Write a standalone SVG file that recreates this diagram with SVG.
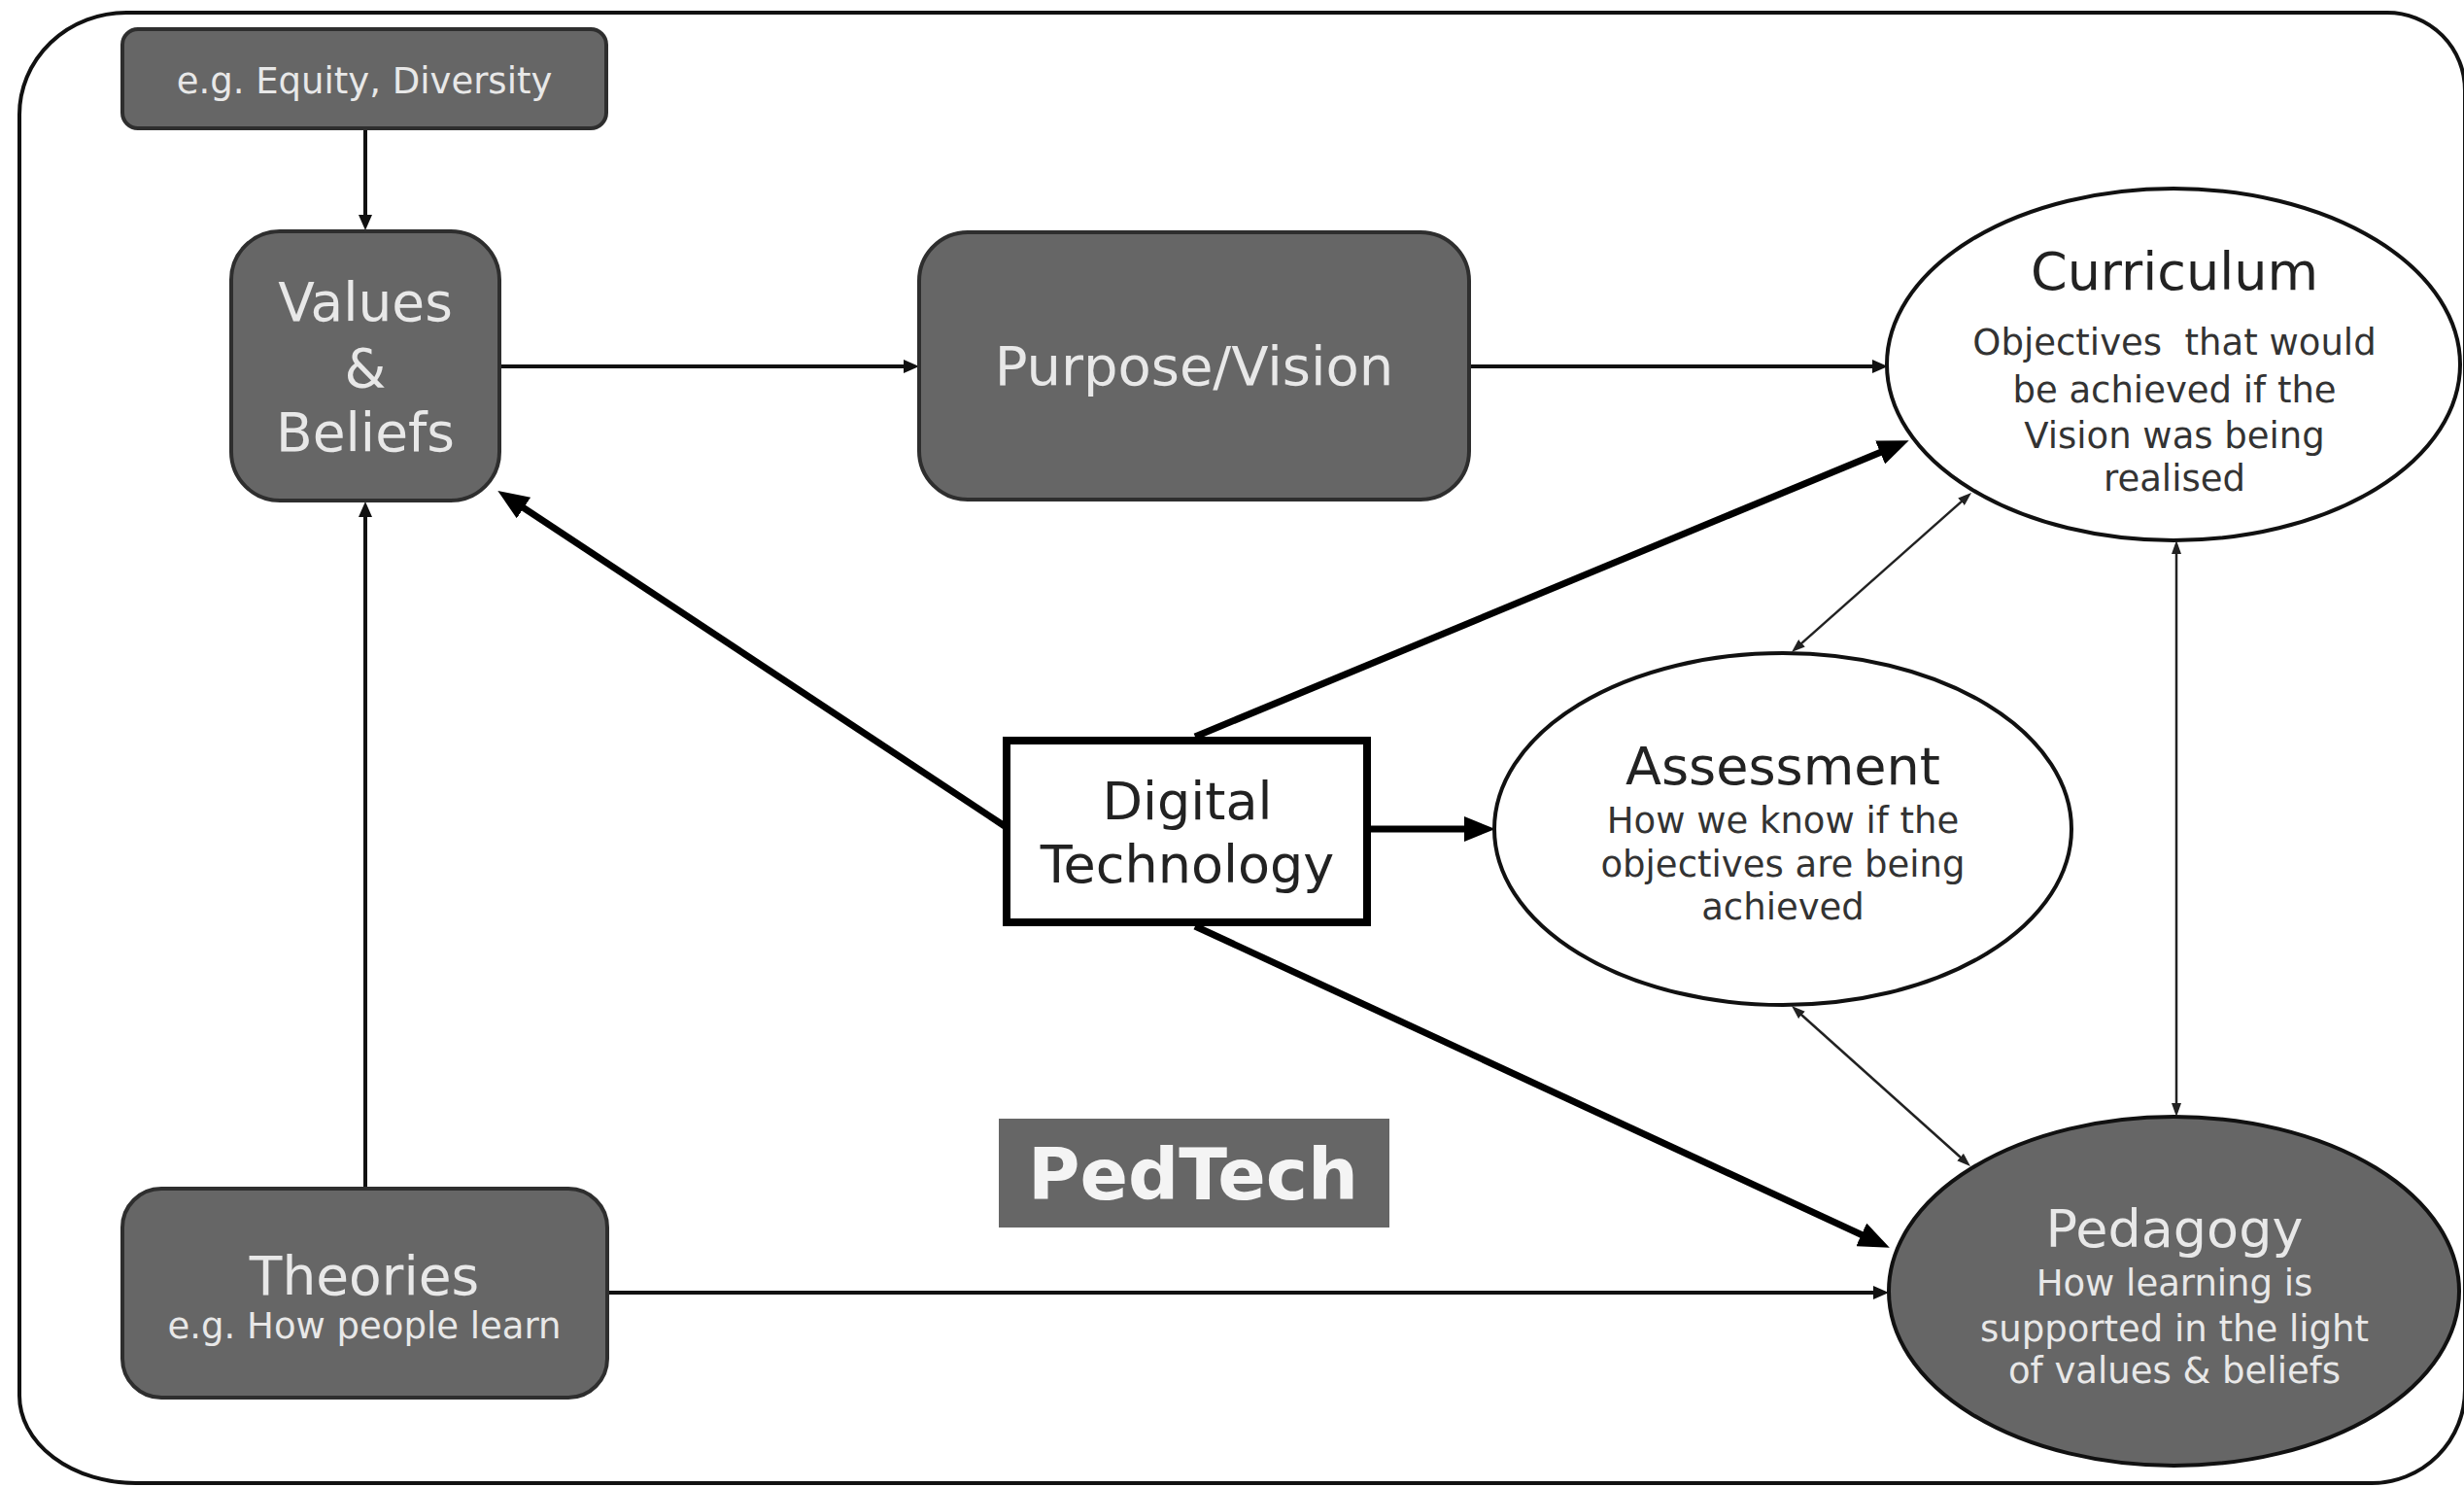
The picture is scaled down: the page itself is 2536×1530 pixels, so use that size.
<svg xmlns="http://www.w3.org/2000/svg" width="2536" height="1530" viewBox="0 0 2536 1530">
<style>
  text { font-family: "DejaVu Sans", Verdana, sans-serif; text-anchor: middle; }
  .dark { fill: #666666; stroke: #2e2e2e; stroke-width: 4; }
  .light { fill: #ffffff; stroke: #111111; stroke-width: 4; }
  .lt { fill: #e8e8e8; }
  .dt { fill: #222222; }
  .st { fill: #333333; font-size: 37px; }
  .c-med { stroke: #111; stroke-width: 4; fill: none; }
  .c-thin { stroke: #222; stroke-width: 2.5; fill: none; }
  .c-thick { stroke: #000; stroke-width: 7; fill: none; }
</style>
<defs>
  <marker id="ah-lg" markerUnits="userSpaceOnUse" markerWidth="32" markerHeight="26" viewBox="0 0 32 26" refX="15" refY="13" orient="auto">
    <path d="M0,0 L32,13 L0,26 z" fill="#000"/>
  </marker>
  <marker id="ah-md" markerUnits="userSpaceOnUse" markerWidth="16" markerHeight="14" viewBox="0 0 16 14" refX="9" refY="7" orient="auto-start-reverse">
    <path d="M0,0 L16,7 L0,14 z" fill="#111"/>
  </marker>
  <marker id="ah-sm" markerUnits="userSpaceOnUse" markerWidth="14" markerHeight="10" viewBox="0 0 14 10" refX="7" refY="5" orient="auto-start-reverse">
    <path d="M0,0 L14,5 L0,10 z" fill="#222"/>
  </marker>
</defs>

<rect width="2536" height="1530" fill="#ffffff"/>
<path id="frame" d="M130,13 L2457,13 A80,80 0 0 1 2537,93 L2537,1430 A96,96 0 0 1 2441,1526 L140,1526 A120,90 0 0 1 20,1436 L20,118 A110,105 0 0 1 130,13 Z" fill="none" stroke="#111" stroke-width="4"/>

<g id="connectors">
  <path class="c-med" d="M376,132 L376,230" marker-end="url(#ah-md)"/>
  <path class="c-med" d="M376,1223 L376,523" marker-end="url(#ah-md)"/>
  <path class="c-med" d="M514,377 L939,377" marker-end="url(#ah-md)"/>
  <path class="c-med" d="M1512,377 L1936,377" marker-end="url(#ah-md)"/>
  <path class="c-med" d="M625,1330 L1937,1330" marker-end="url(#ah-md)"/>
  <path class="c-thick" d="M1034,850 L526.5,514.3" marker-end="url(#ah-lg)"/>
  <path class="c-thick" d="M1230,758 L1949,459.7" marker-end="url(#ah-lg)"/>
  <path class="c-thick" d="M1411,853 L1522,853" marker-end="url(#ah-lg)"/>
  <path class="c-thick" d="M1230,953 L1929.4,1276.7" marker-end="url(#ah-lg)"/>
  <path class="c-thin" d="M1849.2,666.4 L2023.8,511.6" marker-start="url(#ah-sm)" marker-end="url(#ah-sm)"/>
  <path class="c-thin" d="M2240,563 L2240,1142" marker-start="url(#ah-sm)" marker-end="url(#ah-sm)"/>
  <path class="c-thin" d="M1849.2,1039.7 L2022.8,1195.3" marker-start="url(#ah-sm)" marker-end="url(#ah-sm)"/>
</g>

<g id="node-eg">
  <rect class="dark" x="126" y="30" width="498" height="102" rx="16"/>
  <text class="lt" x="375" y="96" font-size="37">e.g. Equity, Diversity</text>
</g>

<g id="node-values">
  <rect class="dark" x="238" y="238" width="276" height="277" rx="50"/>
  <text class="lt" x="376" y="330" font-size="55">Values</text>
  <text class="lt" x="376" y="398" font-size="55">&amp;</text>
  <text class="lt" x="376" y="464" font-size="55">Beliefs</text>
</g>

<g id="node-purpose">
  <rect class="dark" x="946" y="239" width="566" height="275" rx="50"/>
  <text class="lt" x="1229" y="396" font-size="56">Purpose/Vision</text>
</g>

<g id="node-curriculum">
  <ellipse class="light" cx="2237" cy="375" rx="295" ry="181"/>
  <text class="dt" x="2238" y="298" font-size="54">Curriculum</text>
  <text class="st" x="2238" y="365" xml:space="preserve">Objectives  that would</text>
  <text class="st" x="2238" y="414">be achieved if the</text>
  <text class="st" x="2238" y="461">Vision was being</text>
  <text class="st" x="2238" y="505">realised</text>
</g>

<g id="node-assessment">
  <ellipse class="light" cx="1835" cy="853" rx="297" ry="181"/>
  <text class="dt" x="1835" y="807" font-size="54">Assessment</text>
  <text class="st" x="1835" y="857">How we know if the</text>
  <text class="st" x="1835" y="902">objectives are being</text>
  <text class="st" x="1835" y="946">achieved</text>
</g>

<g id="node-digital">
  <rect x="1036" y="762" width="371" height="187" fill="#ffffff" stroke="#000" stroke-width="8"/>
  <text class="dt" x="1222" y="843" font-size="54">Digital</text>
  <text class="dt" x="1222" y="908" font-size="54">Technology</text>
</g>

<g id="node-pedtech">
  <rect x="1028" y="1151" width="402" height="112" fill="#666666"/>
  <text x="1228" y="1234" font-size="73" font-weight="bold" fill="#f4f4f4">PedTech</text>
</g>

<g id="node-theories">
  <rect class="dark" x="126" y="1223" width="499" height="215" rx="40"/>
  <text class="lt" x="375" y="1332" font-size="55">Theories</text>
  <text class="lt" x="375" y="1377" font-size="37">e.g. How people learn</text>
</g>

<g id="node-pedagogy">
  <ellipse cx="2237.5" cy="1328.5" rx="293.5" ry="179.5" fill="#666666" stroke="#111" stroke-width="4"/>
  <text class="lt" x="2238" y="1283" font-size="54">Pedagogy</text>
  <text class="lt" x="2238" y="1333" font-size="37">How learning is</text>
  <text class="lt" x="2238" y="1380" font-size="37">supported in the light</text>
  <text class="lt" x="2238" y="1423" font-size="37">of values &amp; beliefs</text>
</g>
</svg>
